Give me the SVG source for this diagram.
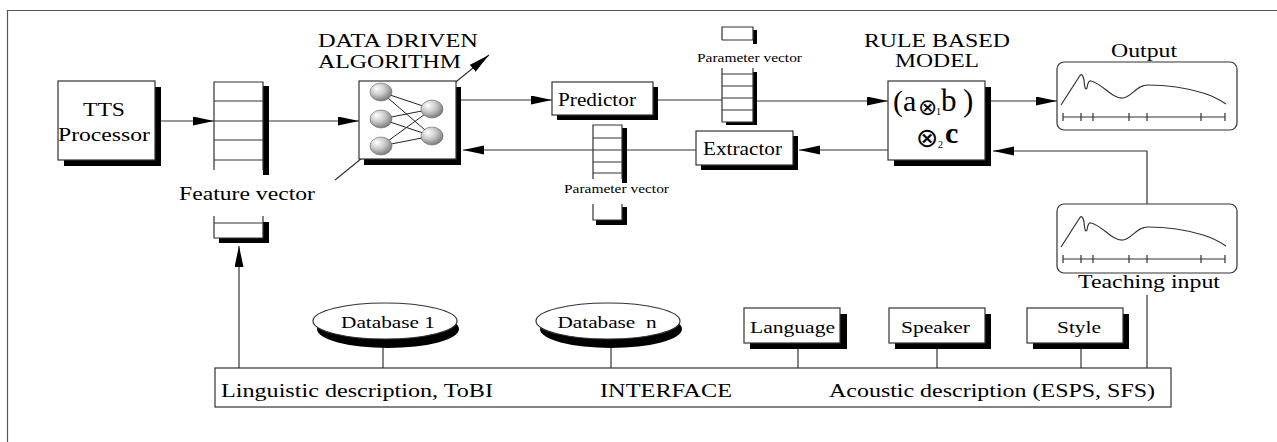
<svg xmlns="http://www.w3.org/2000/svg" width="1277" height="442" viewBox="0 0 1277 442">
<style>
.box{fill:#fff;stroke:#333;stroke-width:1.2}
.sh{fill:#000}
.ln{stroke:#333;stroke-width:1.2;fill:none}
.wf{fill:#fff;stroke:none}
.t{font-family:"Liberation Serif","Times New Roman","DejaVu Serif",serif;fill:#000}
.m{text-anchor:middle}
.op{font-family:"DejaVu Sans",sans-serif;font-weight:normal}
.nn{stroke:#222;stroke-width:1;fill:none}
.sp{fill:url(#sph);stroke:#666;stroke-width:0.6}
</style>
<defs>
<marker id="ah" markerUnits="userSpaceOnUse" markerWidth="22" markerHeight="10" refX="21" refY="4.5" orient="auto">
<path d="M0,0 L21,4.5 L0,9 z" fill="#000"/>
</marker>
<radialGradient id="sph" cx="0.4" cy="0.35" r="0.7" fx="0.3" fy="0.3">
<stop offset="0" stop-color="#fff"/>
<stop offset="0.5" stop-color="#c8c8c8"/>
<stop offset="1" stop-color="#707070"/>
</radialGradient>
<g id="wave">
<path class="ln" d="M1061,247 L1079,219 Q1082,213 1084,222 Q1085,234 1087,230 Q1088,222 1091,223 C1103,226 1112,241 1123,240 C1132,239 1136,227 1148,227 C1168,227 1190,231 1203,235 C1213,238 1220,242 1226,246"/>
<path class="ln" d="M1063,259 H1225 M1063,255 V263 M1081,255 V263 M1093,255 V263 M1129,255 V263 M1147,255 V263 M1201,255 V263 M1225,255 V263"/>
</g>
</defs>

<rect width="1277" height="442" fill="#fff"/>
<path d="M7.5,442 V10.5 H1277" fill="none" stroke="#555" stroke-width="1.2"/>

<g id="connectors">
<line class="ln" x1="155" y1="121" x2="214" y2="121" marker-end="url(#ah)"/>
<line class="ln" x1="269" y1="121" x2="359" y2="121" marker-end="url(#ah)"/>
<line class="ln" x1="461" y1="100" x2="552" y2="100" marker-end="url(#ah)"/>
<line class="ln" x1="658" y1="100" x2="722" y2="100"/>
<line class="ln" x1="757" y1="101" x2="888" y2="101" marker-end="url(#ah)"/>
<line class="ln" x1="991" y1="101" x2="1057" y2="101" marker-end="url(#ah)"/>
<line class="ln" x1="888" y1="150" x2="799" y2="150" marker-end="url(#ah)"/>
<line class="ln" x1="696" y1="150" x2="627" y2="150"/>
<line class="ln" x1="593" y1="150" x2="463" y2="150" marker-end="url(#ah)"/>
<polyline class="ln" points="1147,204 1147,151 993,151" marker-end="url(#ah)"/>
<line class="ln" x1="239" y1="368" x2="239" y2="246" marker-end="url(#ah)"/>
<line class="ln" x1="1147" y1="295" x2="1147" y2="368"/>
<line class="ln" x1="383" y1="346" x2="383" y2="368"/>
<line class="ln" x1="611" y1="346" x2="611" y2="368"/>
<line class="ln" x1="798" y1="349" x2="798" y2="368"/>
<line class="ln" x1="937" y1="349" x2="937" y2="368"/>
<line class="ln" x1="1081" y1="349" x2="1081" y2="368"/>
</g>

<g id="tts">
<rect class="sh" x="64" y="87" width="97" height="79"/>
<rect class="box" x="58" y="81" width="97" height="79"/>
<text class="t m" x="104" y="116" font-size="19" textLength="42" lengthAdjust="spacingAndGlyphs">TTS</text>
<text class="t m" x="104" y="141" font-size="19" textLength="92" lengthAdjust="spacingAndGlyphs">Processor</text>
</g>

<g id="feature-vector">
<rect class="sh" x="263" y="86" width="6" height="89"/>
<rect class="wf" x="214" y="82" width="49" height="88"/>
<path class="ln" d="M214,170 V82 H263 V170 M214,101 H263 M214,121 H263 M214,140 H263 M214,160 H263"/>
<text class="t m" x="247" y="200" font-size="18" textLength="136" lengthAdjust="spacingAndGlyphs">Feature vector</text>
<rect class="sh" x="219" y="222" width="50" height="21"/>
<rect class="wf" x="214" y="216" width="49" height="22"/>
<path class="ln" d="M214,216 V238 H263 V216 M214,223 H263"/>
</g>

<g id="nn">
<line class="ln" x1="335" y1="180" x2="489" y2="55" marker-end="url(#ah)"/>
<rect class="sh" x="364" y="87" width="97" height="78"/>
<rect class="box" x="359" y="81" width="97" height="78"/>
<path class="nn" d="M381,92 L432,109 M381,92 L432,136 M381,119 L432,109 M381,119 L432,136 M381,146 L432,109 M381,146 L432,136"/>
<ellipse class="sp" cx="381" cy="92" rx="11" ry="9"/>
<ellipse class="sp" cx="381" cy="119" rx="11" ry="9"/>
<ellipse class="sp" cx="381" cy="146" rx="11" ry="9"/>
<ellipse class="sp" cx="432" cy="109" rx="11" ry="9"/>
<ellipse class="sp" cx="432" cy="136" rx="11" ry="9"/>
<text class="t" x="318" y="47" font-size="19.5" textLength="160" lengthAdjust="spacingAndGlyphs">DATA DRIVEN</text>
<text class="t" x="318" y="68" font-size="19.5" textLength="143" lengthAdjust="spacingAndGlyphs">ALGORITHM</text>
</g>

<g id="predictor">
<rect class="sh" x="557" y="87" width="101" height="33"/>
<rect class="box" x="552" y="82" width="101" height="33"/>
<text class="t m" x="597" y="106" font-size="18" textLength="78" lengthAdjust="spacingAndGlyphs">Predictor</text>
</g>

<g id="param-vector-top">
<rect class="sh" x="753" y="30" width="4" height="14"/>
<rect class="wf" x="722" y="27" width="31" height="13"/>
<path class="ln" d="M722,40 V27 H753 V40 M722,40 H753"/>
<text class="t" x="697" y="62" font-size="12" textLength="105" lengthAdjust="spacingAndGlyphs">Parameter vector</text>
<rect class="sh" x="726" y="72" width="31" height="53"/>
<rect class="wf" x="722" y="68" width="31" height="54"/>
<path class="ln" d="M722,68 V122 H753 V68 M722,74 H753 M722,86 H753 M722,98 H753 M722,110 H753"/>
</g>

<g id="extractor">
<rect class="sh" x="701" y="136" width="97" height="34"/>
<rect class="box" x="696" y="131" width="97" height="34"/>
<text class="t m" x="742.5" y="155" font-size="18" textLength="79" lengthAdjust="spacingAndGlyphs">Extractor</text>
</g>

<g id="param-vector-bottom">
<rect class="sh" x="622" y="128" width="5" height="55"/>
<rect class="wf" x="593" y="125" width="29" height="54"/>
<path class="ln" d="M593,179 V125 H622 V179 M593,138 H622 M593,150 H622 M593,162 H622 M593,173 H622"/>
<text class="t" x="564" y="193" font-size="12" textLength="105" lengthAdjust="spacingAndGlyphs">Parameter vector</text>
<rect class="sh" x="596" y="207" width="31" height="18"/>
<rect class="wf" x="593" y="204" width="29" height="16"/>
<path class="ln" d="M593,204 V220 H622 V204"/>
</g>

<g id="rule-model">
<rect class="sh" x="894" y="87" width="97" height="79"/>
<rect class="box" x="888" y="81" width="97" height="79"/>
<text class="t m" x="937" y="47" font-size="19.5" textLength="146" lengthAdjust="spacingAndGlyphs">RULE BASED</text>
<text class="t m" x="937" y="67" font-size="19.5" textLength="84" lengthAdjust="spacingAndGlyphs">MODEL</text>
<text class="t" x="893" y="111" font-size="30">(a<tspan class="op" x="918" dy="4" font-size="23">⊗</tspan><tspan x="936" dy="0" font-size="10">1</tspan><tspan x="941" dy="-4" font-size="31">b</tspan><tspan x="963" font-size="31">)</tspan></text>
<text class="t" x="916" y="147" font-size="27"><tspan class="op">⊗</tspan><tspan x="938" dy="1" font-size="10">2</tspan><tspan x="945" dy="-5" font-size="30" font-weight="bold">c</tspan></text>
</g>

<g id="output">
<rect class="box" x="1057" y="62" width="180" height="68" rx="7"/>
<use href="#wave" transform="translate(0,-142)"/>
<text class="t m" x="1144" y="57" font-size="18" textLength="66" lengthAdjust="spacingAndGlyphs">Output</text>
</g>

<g id="teaching-input">
<rect class="box" x="1057" y="204" width="180" height="69" rx="7"/>
<use href="#wave"/>
<text class="t m" x="1149" y="288" font-size="18" textLength="142" lengthAdjust="spacingAndGlyphs">Teaching input</text>
</g>

<g id="database-1">
<ellipse class="sh" cx="388" cy="329" rx="71" ry="19"/>
<ellipse class="box" cx="385" cy="321" rx="72" ry="18"/>
<text class="t m" x="388" y="328" font-size="16" textLength="94" lengthAdjust="spacingAndGlyphs">Database 1</text>
</g>

<g id="database-n">
<ellipse class="sh" cx="611" cy="329" rx="71" ry="19"/>
<ellipse class="box" cx="608" cy="321" rx="72" ry="18"/>
<text class="t m" x="607" y="328" font-size="16" textLength="99" lengthAdjust="spacingAndGlyphs" xml:space="preserve">Database  n</text>
</g>

<g id="language">
<rect class="sh" x="750" y="314" width="97" height="35"/>
<rect class="box" x="744" y="308" width="96" height="35"/>
<text class="t m" x="792.5" y="333" font-size="16" textLength="85" lengthAdjust="spacingAndGlyphs">Language</text>
</g>

<g id="speaker">
<rect class="sh" x="895" y="314" width="96" height="35"/>
<rect class="box" x="889" y="308" width="96" height="35"/>
<text class="t m" x="935.5" y="333" font-size="16" textLength="69" lengthAdjust="spacingAndGlyphs">Speaker</text>
</g>

<g id="style">
<rect class="sh" x="1033" y="314" width="96" height="35"/>
<rect class="box" x="1027" y="308" width="96" height="35"/>
<text class="t m" x="1079" y="333" font-size="16" textLength="44" lengthAdjust="spacingAndGlyphs">Style</text>
</g>

<g id="interface">
<rect class="box" x="215" y="368" width="956" height="39"/>
<text class="t" x="221" y="397" font-size="19" textLength="272" lengthAdjust="spacingAndGlyphs">Linguistic description, ToBI</text>
<text class="t" x="600" y="397" font-size="19" textLength="132" lengthAdjust="spacingAndGlyphs">INTERFACE</text>
<text class="t" x="829" y="397" font-size="19" textLength="326" lengthAdjust="spacingAndGlyphs">Acoustic description (ESPS, SFS)</text>
</g>
</svg>
